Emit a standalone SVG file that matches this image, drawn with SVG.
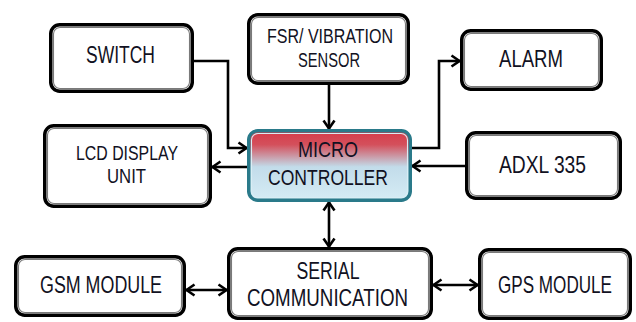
<svg xmlns="http://www.w3.org/2000/svg" width="636" height="322" viewBox="0 0 636 322">
  <style>
    .outer { fill: #ffffff; stroke: #000000; stroke-width: 3.5; }
    .inner { fill: none; stroke: #7a7a7a; stroke-width: 1.1; }
    .mouter { stroke: #2a7a8a; stroke-width: 3.5; }
    .minner { fill: none; stroke: #d9eef5; stroke-width: 1.1; }
    .lbl { font-family: "Liberation Sans", "Open Sans", sans-serif; fill: #111122; text-anchor: middle; }
    .conn { fill: none; stroke: #000000; stroke-width: 2.6; }
  </style>
  <defs>
    <linearGradient id="mcGrad" x1="0" y1="0" x2="0" y2="1">
      <stop offset="0" stop-color="#d63a48"/>
      <stop offset="0.2" stop-color="#d4505c"/>
      <stop offset="0.52" stop-color="#c2dcea"/>
      <stop offset="1" stop-color="#d6ecf5"/>
    </linearGradient>
    <marker id="arr" markerUnits="userSpaceOnUse" viewBox="0 0 12 14" markerWidth="12" markerHeight="14" refX="10.5" refY="7" orient="auto-start-reverse">
      <path d="M2,1.5 L10,7 L2,12.5" fill="none" stroke="#000" stroke-width="2.6"/>
    </marker>
  </defs>

  <g id="connectors">
    <path class="conn" d="M194,61 H228 V148 H247" marker-end="url(#arr)"/>
    <path class="conn" d="M329,85 V129" marker-end="url(#arr)"/>
    <path class="conn" d="M247,167 H212" marker-end="url(#arr)"/>
    <path class="conn" d="M412,148 H439 V61 H460" marker-end="url(#arr)"/>
    <path class="conn" d="M465,166 H412" marker-end="url(#arr)"/>
    <path class="conn" d="M329,202 V247" marker-start="url(#arr)" marker-end="url(#arr)"/>
    <path class="conn" d="M186,290 H227" marker-start="url(#arr)" marker-end="url(#arr)"/>
    <path class="conn" d="M433,285 H478" marker-start="url(#arr)" marker-end="url(#arr)"/>
  </g>

  <g id="switch">
    <rect class="outer" x="50.75" y="24.75" width="141.5" height="66.5" rx="9"/>
    <rect class="inner" x="53.5" y="27.5" width="136" height="61" rx="6.5"/>
    <text class="lbl" x="120.5" y="63" font-size="24" textLength="69" lengthAdjust="spacingAndGlyphs">SWITCH</text>
  </g>

  <g id="fsr">
    <rect class="outer" x="248.75" y="14.75" width="159.5" height="68.5" rx="9"/>
    <rect class="inner" x="251.5" y="17.5" width="154" height="63" rx="6.5"/>
    <text class="lbl" x="330" y="43" font-size="20" textLength="126" lengthAdjust="spacingAndGlyphs">FSR/ VIBRATION</text>
    <text class="lbl" x="329" y="67" font-size="20" textLength="62" lengthAdjust="spacingAndGlyphs">SENSOR</text>
  </g>

  <g id="alarm">
    <rect class="outer" x="461.75" y="30.75" width="139.5" height="58.5" rx="9"/>
    <rect class="inner" x="464.5" y="33.5" width="134" height="53" rx="6.5"/>
    <text class="lbl" x="531" y="67" font-size="24" textLength="64" lengthAdjust="spacingAndGlyphs">ALARM</text>
  </g>

  <g id="lcd">
    <rect class="outer" x="44.75" y="125.75" width="165.5" height="80.5" rx="9"/>
    <rect class="inner" x="47.5" y="128.5" width="160" height="75" rx="6.5"/>
    <text class="lbl" x="127" y="160" font-size="20" textLength="102" lengthAdjust="spacingAndGlyphs">LCD DISPLAY</text>
    <text class="lbl" x="126.5" y="183" font-size="20" textLength="39" lengthAdjust="spacingAndGlyphs">UNIT</text>
  </g>

  <g id="microcontroller">
    <rect class="mouter" x="248.75" y="130.75" width="161.5" height="69.5" rx="9" fill="url(#mcGrad)"/>
    <rect class="minner" x="251.5" y="133.5" width="156" height="64" rx="6.5"/>
    <text class="lbl" x="328" y="157" font-size="22" textLength="60" lengthAdjust="spacingAndGlyphs">MICRO</text>
    <text class="lbl" x="328" y="185" font-size="22" textLength="120" lengthAdjust="spacingAndGlyphs">CONTROLLER</text>
  </g>

  <g id="adxl">
    <rect class="outer" x="466.75" y="132.75" width="153.5" height="65.5" rx="9"/>
    <rect class="inner" x="469.5" y="135.5" width="148" height="60" rx="6.5"/>
    <text class="lbl" x="542.5" y="173" font-size="24" textLength="87" lengthAdjust="spacingAndGlyphs">ADXL 335</text>
  </g>

  <g id="gsm">
    <rect class="outer" x="15.75" y="256.75" width="168.5" height="58.5" rx="9"/>
    <rect class="inner" x="18.5" y="259.5" width="163" height="53" rx="6.5"/>
    <text class="lbl" x="101" y="293" font-size="23" textLength="122" lengthAdjust="spacingAndGlyphs">GSM MODULE</text>
  </g>

  <g id="serial">
    <rect class="outer" x="228.75" y="248.75" width="202.5" height="69.5" rx="9"/>
    <rect class="inner" x="231.5" y="251.5" width="197" height="64" rx="6.5"/>
    <text class="lbl" x="328" y="279" font-size="23" textLength="63" lengthAdjust="spacingAndGlyphs">SERIAL</text>
    <text class="lbl" x="327.5" y="306" font-size="23" textLength="161" lengthAdjust="spacingAndGlyphs">COMMUNICATION</text>
  </g>

  <g id="gps">
    <rect class="outer" x="479.75" y="249.75" width="150.5" height="68.5" rx="9"/>
    <rect class="inner" x="482.5" y="252.5" width="145" height="63" rx="6.5"/>
    <text class="lbl" transform="translate(555,293) scale(0.743,1)" x="0" y="0" font-size="23">GPS MODULE</text>
  </g>
</svg>
